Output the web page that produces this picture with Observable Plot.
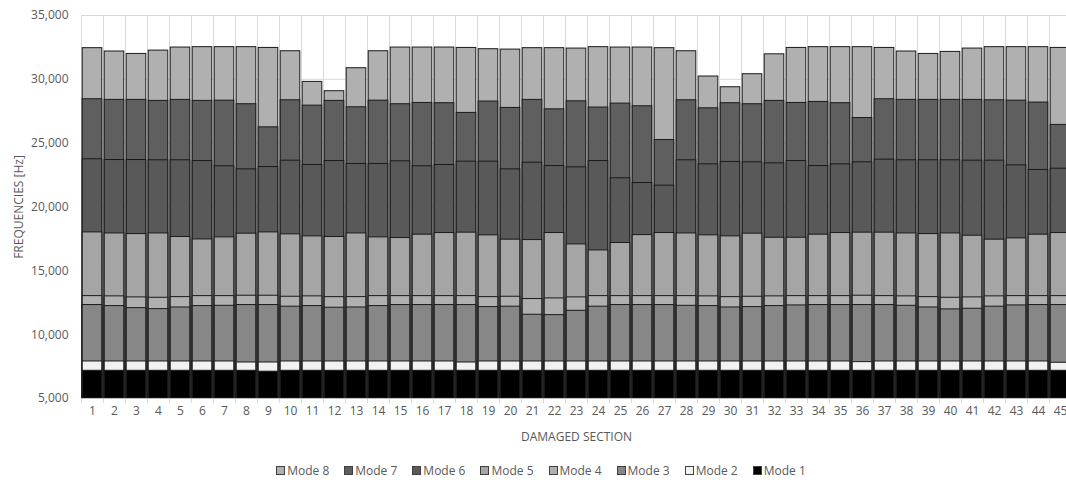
<!DOCTYPE html>
<html>
<head>
<meta charset="utf-8">
<script src="https://cdn.jsdelivr.net/npm/d3@7"></script>
<script src="https://cdn.jsdelivr.net/npm/@observablehq/plot@0.6"></script>
<style>
  body { margin: 0; background: #fff; overflow: hidden; font-family: "Open Sans", sans-serif; }
  #legend { display: flex; justify-content: center; gap: 15px; font-size: 12px; color: #595959; padding-top: 13px; line-height: 16px; margin-left: 16px; }
  #legend span.sw { display: inline-block; width: 7px; height: 7px; border: 1px solid #404040; margin-right: 2px; vertical-align: 0px; }
</style>
</head>
<body>
<div id="chart"></div>
<div id="legend"></div>
<script>
const sections = d3.range(1, 46);
const modes = ["Mode 8", "Mode 7", "Mode 6", "Mode 5", "Mode 4", "Mode 3", "Mode 2", "Mode 1"];
const colors = ["#b0b0b0", "#5f5f5f", "#595959", "#a5a5a5", "#b0b0b0", "#878787", "#f2f2f2", "#000000"];
const yTicks = [5000, 10000, 15000, 20000, 25000, 30000, 35000];

const mode1 = [7170,7170,7170,7170,7170,7170,7170,7170,7100,7170,7170,7170,7170,7170,7170,7170,7170,7170,7170,7170,7170,7170,7170,7170,7170,7170,7170,7170,7170,7170,7170,7170,7170,7170,7170,7170,7170,7170,7170,7170,7170,7170,7170,7170,7170];
const mode2 = [7900,7900,7900,7900,7900,7900,7900,7820,7820,7900,7900,7900,7900,7900,7900,7900,7900,7820,7900,7900,7900,7900,7900,7900,7900,7900,7900,7900,7900,7900,7900,7900,7900,7900,7900,7850,7900,7900,7900,7900,7900,7900,7900,7900,7800];
const mode3 = [12320,12240,12080,12000,12130,12240,12260,12320,12320,12190,12240,12110,12130,12240,12320,12320,12320,12320,12160,12190,11560,11530,11870,12190,12320,12320,12320,12260,12240,12130,12160,12240,12290,12320,12320,12320,12320,12260,12130,11980,12030,12190,12290,12320,12320];
const mode4 = [13020,13000,12920,12890,12940,13020,13020,13050,13050,12970,13000,12940,12940,13020,13020,13020,13020,13020,12940,12970,12790,12840,12920,13020,13020,13020,13020,13020,13000,12940,12970,13000,13020,13020,13020,13050,13020,13000,12940,12890,12920,13000,13020,13020,13020];
const mode5 = [18010,17930,17880,17930,17650,17460,17620,17910,18010,17860,17700,17650,17930,17620,17570,17830,17960,17990,17780,17440,17410,17960,17070,16600,17180,17800,17960,17930,17780,17700,17910,17590,17590,17830,17960,17990,17990,17930,17880,17930,17750,17440,17540,17830,17960];
const mode6 = [23740,23680,23680,23660,23660,23600,23190,22950,23130,23630,23290,23600,23370,23370,23580,23190,23290,23550,23550,22950,23470,23210,23110,23600,22250,21880,21670,23660,23340,23530,23500,23420,23600,23210,23340,23500,23710,23660,23660,23660,23630,23630,23260,22900,23000];
const mode7 = [28440,28390,28390,28310,28390,28310,28330,28050,26240,28360,27940,28310,27810,28330,28050,28150,28130,27370,28260,27760,28390,27650,28280,27790,28100,27890,25250,28360,27730,28130,28050,28310,28150,28230,28130,26970,28440,28390,28390,28390,28390,28360,28330,28180,26430];
const mode8 = [32440,32180,31990,32250,32490,32520,32520,32520,32460,32200,29800,29070,30870,32200,32490,32490,32490,32460,32360,32330,32440,32440,32410,32520,32490,32490,32440,32200,30220,29380,30400,31960,32460,32520,32520,32520,32460,32180,31990,32150,32410,32520,32520,32520,32460];

const series = [mode8, mode7, mode6, mode5, mode4, mode3, mode2, mode1];
const boundaries = [...sections.map(s => s - 0.5), sections[sections.length - 1] + 0.5];

const barMarks = series.map((vals, i) =>
  Plot.rect(sections.map((s, j) => ({section: s, value: vals[j]})), {
    x1: d => d.section - 0.5,
    x2: d => d.section + 0.5,
    y1: yTicks[0],
    y2: "value",
    insetLeft: 1.2,
    insetRight: 1.2,
    fill: colors[i],
    stroke: "#1a1a1a",
    strokeWidth: 1
  })
);

const chart = Plot.plot({
  width: 1066,
  height: 450,
  marginLeft: 81,
  marginRight: -5,
  marginTop: 15,
  marginBottom: 52,
  style: {fontFamily: "Open Sans, sans-serif", fontSize: "12px", color: "#595959", background: "#fff"},
  x: {domain: [sections[0] - 0.5, sections[sections.length - 1] + 0.5]},
  y: {domain: [yTicks[0], yTicks[yTicks.length - 1]]},
  marks: [
    Plot.gridY(yTicks, {stroke: "#d9d9d9", strokeOpacity: 1}),
    Plot.ruleX(boundaries, {stroke: "#d9d9d9", insetBottom: -5}),
    ...barMarks,
    Plot.ruleY([yTicks[0]], {stroke: "#bfbfbf"}),
    Plot.axisY(yTicks, {tickSize: 0, tickPadding: 13, tickFormat: d3.format(","), label: "FREQUENCIES [Hz]", labelAnchor: "center", labelArrow: "none", labelOffset: 67, fontSize: 12, fill: "#595959"}),
    Plot.axisX(sections, {tickSize: 0, tickPadding: 8, tickFormat: d => String(d), label: "DAMAGED SECTION", labelAnchor: "center", labelArrow: "none", labelOffset: 42, fontSize: 12, fill: "#595959"})
  ]
});
document.getElementById("chart").appendChild(chart);

const legend = document.getElementById("legend");
modes.forEach((m, i) => {
  const item = document.createElement("div");
  item.innerHTML = `<span class="sw" style="background:${colors[i]}"></span>${m}`;
  legend.appendChild(item);
});
</script>
</body>
</html>
